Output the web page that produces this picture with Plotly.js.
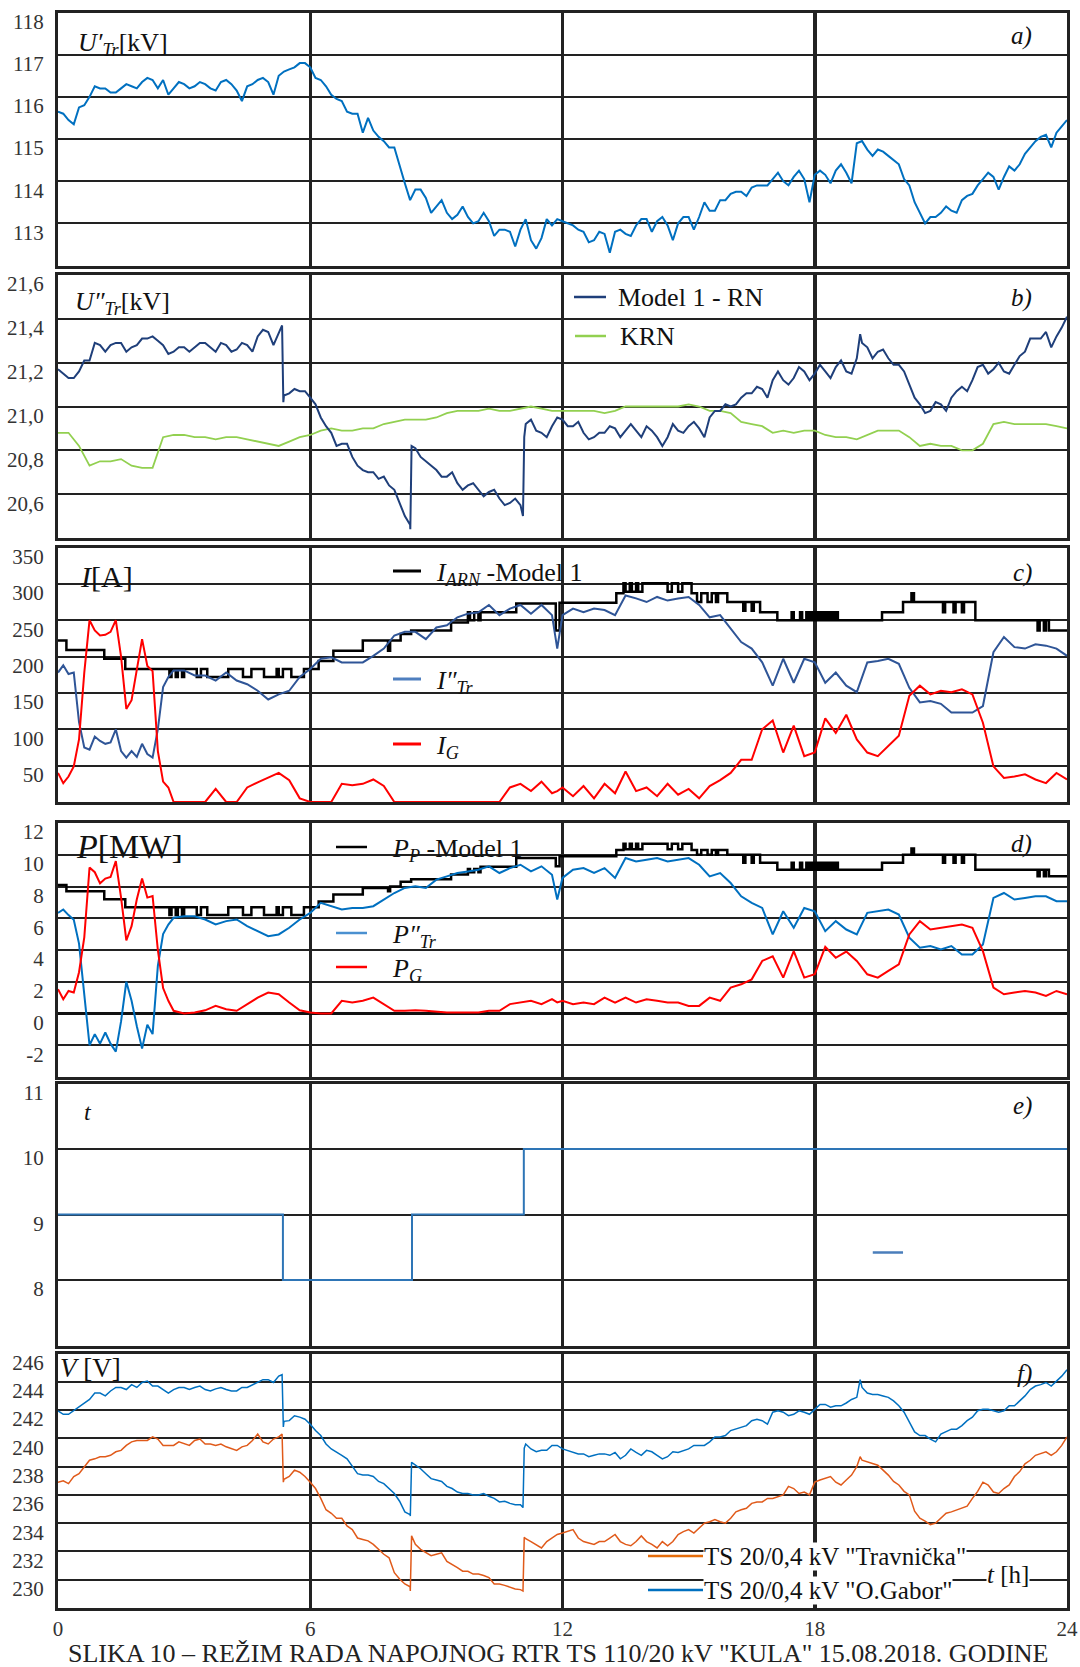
<!DOCTYPE html>
<html><head><meta charset="utf-8">
<script src="https://cdn.plot.ly/plotly-3.0.1.min.js"></script>
<style>html,body{margin:0;padding:0;background:#fff;}#chart{width:1080px;height:1667px;}</style>
</head><body><div id="chart"></div>
<script>
// ---------- DATA (hours of day) ----------
const HOURS = [0,0.25,0.5,0.75,1,1.25,1.5,1.75,2,2.25,2.5,2.75,3,3.25,3.5,3.75,4,4.25,4.5,4.75,5,5.25,5.5,5.75,6,6.25,6.5,6.75,7,7.25,7.5,7.75,8,8.25,8.5,8.75,9,9.25,9.5,9.75,10,10.25,10.5,10.75,11,11.25,11.5,11.75,12,12.25,12.5,12.75,13,13.25,13.5,13.75,14,14.25,14.5,14.75,15,15.25,15.5,15.75,16,16.25,16.5,16.75,17,17.25,17.5,17.75,18,18.25,18.5,18.75,19,19.25,19.5,19.75,20,20.25,20.5,20.75,21,21.25,21.5,21.75,22,22.25,22.5,22.75,23,23.25,23.5,23.75,24];

const MID_H = [0.125,0.375,0.625,0.875,1.125,1.375,1.625,1.875,2.125,2.375,2.625,2.875,3.125,3.375,3.625,3.875,4.125,4.375,4.625,4.875,5.125,5.375,5.625,5.875,6.125,6.375,6.625,6.875,7.125,7.375,7.625,7.875,8.125,8.375,8.625,8.875,9.125,9.375,9.625,9.875,10.125,10.375,10.625,10.875,11.125,11.375,11.625,11.875,12.125,12.375,12.625,12.875,13.125,13.375,13.625,13.875,14.125,14.375,14.625,14.875,15.125,15.375,15.625,15.875,16.125,16.375,16.625,16.875,17.125,17.375,17.625,17.875,18.125,18.375,18.625,18.875,19.125,19.375,19.625,19.875,20.125,20.375,20.625,20.875,21.125,21.375,21.625,21.875,22.125,22.375,22.625,22.875,23.125,23.375,23.625,23.875];

const HOURS_J = [0,0.25,0.5,0.75,1,1.25,1.5,1.75,2,2.25,2.5,2.75,3,3.25,3.5,3.75,4,4.25,4.5,4.75,5,5.25,5.33,5.36,5.5,5.75,6,6.25,6.5,6.75,7,7.25,7.5,7.75,8,8.25,8.38,8.41,8.5,8.75,9,9.25,9.5,9.75,10,10.25,10.5,10.75,11,11.06,11.09,11.25,11.5,11.75,12,12.25,12.5,12.75,13,13.25,13.5,13.75,14,14.25,14.5,14.75,15,15.25,15.5,15.75,16,16.25,16.5,16.75,17,17.25,17.5,17.75,18,18.25,18.5,18.75,19,19.08,19.25,19.5,19.75,20,20.25,20.5,20.75,21,21.25,21.5,21.75,22,22.25,22.5,22.75,23,23.25,23.5,23.75,24];

const HOURS_CD = [0,0.125,0.25,0.375,0.5,0.625,0.75,0.875,1,1.125,1.25,1.375,1.5,1.625,1.75,1.875,2,2.125,2.25,2.375,2.5,2.625,2.75,3,3.25,3.5,3.75,4,4.25,4.5,4.75,5,5.25,5.5,5.75,6,6.25,6.5,6.75,7,7.25,7.5,7.75,8,8.25,8.5,8.75,9,9.25,9.5,9.75,10,10.25,10.5,10.75,11,11.25,11.5,11.75,11.875,12,12.25,12.5,12.75,13,13.25,13.5,13.75,14,14.25,14.5,14.75,15,15.25,15.5,15.75,16,16.25,16.5,16.75,17,17.25,17.5,17.75,18,18.25,18.5,18.75,19,19.25,19.5,19.75,20,20.25,20.5,20.75,21,21.25,21.5,21.75,22,22.25,22.5,22.75,23,23.25,23.5,23.75,24];

// a) U'Tr [kV]
const U_HV = [115.65,115.45,115.75,116.0,116.2,116.1,116.2,116.25,116.35,116.4,116.4,116.2,116.3,116.25,116.3,116.15,116.4,116.15,116.25,116.4,116.35,116.5,116.65,116.8,
116.7,116.4,116.05,115.9,115.6,115.15,115.2,114.95,114.8,113.95,113.8,113.6,113.4,113.25,113.2,113.15,113.05,113.05,112.85,112.8,112.85,112.6,112.65,112.95,
113.05,112.95,112.8,112.6,112.75,112.8,112.75,112.95,113.1,113.05,112.95,113.0,113.15,113.15,113.3,113.55,113.7,113.75,113.85,113.9,114.05,114.0,114.1,114.05,
114.15,114.15,114.25,114.2,114.9,114.75,114.75,114.6,114.4,113.9,113.25,113.15,113.25,113.3,113.55,113.7,114.05,114.1,114.1,114.25,114.65,114.95,115.1,115.15,115.45];
const U_HV_MID = [115.6,115.35,115.8,116.25,116.2,116.1,116.3,116.2,116.45,116.2,116.05,116.35,116.2,116.35,116.2,116.35,116.3,115.9,116.3,116.45,116.05,116.6,116.7,116.8,
116.45,116.25,115.95,115.65,115.6,115.5,115.05,114.8,114.35,113.55,113.8,113.25,113.55,113.1,113.4,113.0,113.25,112.7,112.85,112.45,113.1,112.4,113.1,113.1,
113.0,112.85,112.55,112.8,112.3,112.85,112.7,113.1,112.8,113.15,112.6,113.15,112.85,113.5,113.3,113.55,113.75,113.65,113.9,113.9,114.2,113.9,114.25,113.5,
114.25,113.95,114.4,113.95,114.95,114.6,114.7,114.5,114.05,113.5,113.0,113.15,113.4,113.25,113.65,113.9,114.2,113.8,114.35,114.4,114.8,115.05,114.8,115.3];

// b) U''Tr [kV]
const U_RN = [21.17,21.13,21.16,21.21,21.28,21.28,21.29,21.27,21.31,21.32,21.28,21.25,21.27,21.27,21.29,21.25,21.28,21.26,21.28,21.32,21.34,21.34,
21.37,21.02,
21.06,21.07,21.04,20.95,20.88,20.83,20.77,20.71,20.70,20.68,20.62,20.50,
20.44,20.82,
20.81,20.75,20.71,20.68,20.65,20.64,20.62,20.61,20.58,20.56,20.55,
20.50,20.86,
20.94,20.88,20.91,20.94,20.91,20.88,20.86,20.88,20.90,20.89,20.89,20.91,20.86,20.86,20.89,20.91,20.90,20.95,20.98,21.00,21.04,21.06,21.08,21.12,21.12,21.13,21.16,21.15,21.16,21.18,21.16,21.22,
21.33,
21.27,21.25,21.22,21.19,21.10,21.01,20.98,21.01,21.04,21.09,21.12,21.19,21.17,21.16,21.19,21.25,21.31,21.34,21.32,21.41];
const U_RN_MID = [21.15,21.13,21.21,21.29,21.25,21.29,21.25,21.28,21.31,21.30,21.24,21.27,21.25,21.29,21.27,21.29,21.25,21.29,21.25,21.35,21.28,21.05,21.08,21.07,
21.01,20.91,20.82,20.83,20.73,20.70,20.67,20.64,20.56,20.46,20.77,20.73,20.68,20.70,20.62,20.65,20.59,20.62,20.55,20.58,20.92,20.89,20.86,20.95,
20.91,20.93,20.85,20.88,20.91,20.86,20.92,20.86,20.89,20.82,20.92,20.88,20.93,20.86,20.98,21.01,21.01,21.06,21.09,21.04,21.16,21.10,21.18,21.12,
21.19,21.13,21.21,21.15,21.29,21.22,21.26,21.19,21.16,21.04,20.97,21.02,20.98,21.07,21.07,21.18,21.15,21.20,21.15,21.23,21.31,21.31,21.27,21.36];
const KRN = [20.88,20.88,20.82,20.73,20.75,20.75,20.76,20.73,20.72,20.72,20.86,20.87,20.87,20.86,20.86,20.85,20.86,20.86,20.85,20.84,20.83,20.82,20.84,20.86,
20.87,20.89,20.90,20.89,20.89,20.90,20.90,20.92,20.93,20.94,20.94,20.94,20.95,20.97,20.98,20.98,20.98,20.99,20.98,20.98,20.99,21.00,20.99,20.98,
20.98,20.98,20.98,20.98,20.97,20.98,21.00,21.00,21.00,21.00,21.00,21.00,21.01,21.00,20.98,20.98,20.97,20.93,20.92,20.91,20.88,20.89,20.88,20.89,
20.89,20.87,20.86,20.86,20.85,20.87,20.89,20.89,20.89,20.86,20.82,20.83,20.82,20.82,20.80,20.80,20.83,20.92,20.93,20.92,20.92,20.92,20.92,20.91,20.90];

// c) I [A]
const I_TR = [178,188,176,178,110,75,72,90,84,80,82,100,70,61,70,62,80,66,61,100,158,172,181,
181,174,174,167,178,167,162,153,141,148,153,172,183,197,199,192,192,192,201,211,229,234,234,224,240,243,254,259,261,271,257,266,271,259,271,257,
211,
257,266,261,266,264,257,284,280,275,282,277,280,282,271,254,257,238,220,211,192,160,197,164,197,192,164,178,160,151,192,194,197,190,157,137,139,135,123,123,123,132,206,227,213,211,217,215,211,201];
const I_G = [40,26,35,49,86,178,250,236,229,230,234,250,200,128,140,185,224,187,180,70,28,20,0,
0,0,0,18,0,0,20,27,33,40,30,5,0,0,0,25,23,25,31,22,0,0,0,0,0,0,0,0,0,0,0,20,25,15,28,12,
15,
20,8,22,5,25,12,42,15,20,8,25,10,18,5,22,30,40,58,58,100,112,68,105,63,68,115,95,120,86,68,63,77,91,146,160,148,153,151,155,148,109,49,33,35,38,31,26,40,31];

// steps of the model (shared switching times)
const STEP_H = [0,0.2,1.1,1.6,2.65,2.7,2.8,2.85,2.95,3.0,3.3,3.4,3.55,4.05,4.4,4.6,4.9,5.2,5.25,5.35,5.55,5.85,6.2,6.55,7.25,7.85,7.9,8.15,8.4,9.35,9.75,9.8,9.9,10.0,10.05,10.9,11.84,11.93,13.28,13.45,13.5,13.6,13.65,13.75,13.8,13.9,14.5,14.6,14.75,14.85,15.07,15.2,15.3,15.45,15.55,15.65,15.7,15.92,16.3,16.35,16.5,16.55,16.7,17.11,17.45,17.5,17.65,17.7,17.8,17.85,17.9,17.95,18.0,18.05,18.1,18.15,18.2,18.25,18.3,18.35,18.4,18.45,18.5,18.55,19.6,20.1,20.3,20.36,21.05,21.1,21.3,21.35,21.5,21.55,21.82,23.3,23.35,23.45,23.5,23.57,24];
const I_ARN = [222,209,197,183,172,183,172,183,172,183,172,183,172,183,172,183,172,183,172,183,172,183,194,208,222,208,222,231,236,247,261,250,261,250,261,273,236,274,287,301,289,301,289,301,289,301,289,301,289,301,287,275,287,275,287,275,287,275,263,275,263,275,261,250,261,250,261,250,261,250,261,250,261,250,261,250,261,250,261,250,261,250,261,250,261,275,287,275,261,275,261,275,261,275,250,236,250,236,250,236,236];
const P_P = [8.1,7.7,7.2,6.7,6.2,6.7,6.2,6.7,6.2,6.7,6.2,6.7,6.2,6.7,6.2,6.7,6.2,6.7,6.2,6.7,6.2,6.7,7.05,7.5,7.9,7.7,8.0,8.3,8.45,8.75,9.1,8.9,9.1,8.9,9.25,9.8,9.27,9.9,10.3,10.7,10.35,10.7,10.35,10.7,10.35,10.7,10.35,10.7,10.35,10.7,10.3,10.0,10.3,10.0,10.3,10.0,10.3,10.0,9.5,10.0,9.5,10.0,9.5,9.05,9.5,9.05,9.5,9.05,9.5,9.05,9.5,9.05,9.5,9.05,9.5,9.05,9.5,9.05,9.5,9.05,9.5,9.05,9.5,9.05,9.5,10.0,10.4,10.0,9.5,10.0,9.5,10.0,9.5,10.0,9.05,8.65,9.05,8.65,9.05,8.65,8.65];

// d) P [MW]
const P_TR = [6.34,6.55,6.2,5.9,4.4,1.2,-2.0,-1.3,-1.9,-1.2,-1.9,-2.4,-0.5,2.0,0.8,-0.8,-2.2,-0.7,-1.3,3.0,5.0,5.6,6.03,
6.13,6.13,5.92,5.61,5.82,5.92,5.5,5.19,4.87,4.98,5.4,5.92,6.34,6.97,6.76,6.55,6.65,6.65,6.76,7.18,7.59,7.91,8.01,7.91,8.43,8.64,8.85,8.95,9.06,9.27,8.85,9.16,9.37,8.95,9.27,8.74,
7.18,
8.54,9.06,9.16,8.85,9.16,8.54,9.79,9.58,9.69,9.79,9.58,9.69,9.79,9.37,8.64,8.85,8.22,7.38,6.97,6.65,4.98,6.44,5.4,6.65,6.44,5.19,5.82,5.29,4.98,6.34,6.44,6.55,6.23,4.77,4.14,4.25,4.04,4.25,3.72,3.72,4.35,7.28,7.59,7.18,7.28,7.38,7.38,7.07,7.07];
const P_G = [1.53,0.9,1.42,1.32,2.6,4.8,9.2,8.9,8.2,8.5,8.6,9.6,7.3,4.6,5.5,7.2,8.5,7.3,7.4,4.0,1.6,0.8,0.17,
0,0.06,0.2,0.48,0.27,0.17,0.59,1.0,1.32,1.21,0.69,0.2,0.06,0,0,0.8,0.69,0.8,1.0,0.59,0.17,0.17,0.2,0.17,0.1,0.06,0.06,0.04,0.06,0.17,0.17,0.59,0.69,0.8,0.59,0.9,
0.7,
0.8,0.59,0.69,0.59,1.0,0.69,1.0,0.69,0.9,0.8,0.69,0.69,0.48,0.48,1.0,0.8,1.63,1.84,2.15,3.31,3.6,2.26,3.93,2.26,2.47,4.2,3.51,3.9,3.31,2.47,2.26,2.68,3.1,4.98,5.82,5.29,5.4,5.5,5.61,5.4,3.93,1.63,1.21,1.32,1.42,1.32,1.11,1.42,1.21];

// e) tap position t
const TAP_H = [0,5.35,8.42,11.08,24];
const TAP = [9,8,9,10,10];
const TAP_ODD_H = [19.38,20.1];
const TAP_ODD = [8.42,8.42];

// f) V [V]
const V_TRAV = [236.9,236.8,237.5,238.45,238.7,238.8,239.15,239.75,239.85,240.1,239.5,239.5,239.6,239.85,239.6,239.5,239.4,239.15,239.5,240.3,239.6,240.1,
240.3,236.9,
237.3,237.6,236.9,235.75,234.7,234.35,233.55,232.85,232.5,231.8,230.5,229.7,
229.2,233.1,
232.5,231.9,231.8,231.3,230.85,230.6,230.4,230.15,229.7,229.45,229.3,
229.2,233.0,
232.7,232.25,232.95,233.3,233.55,232.7,232.5,232.7,233.2,232.5,232.7,232.7,232.25,232.4,233.2,233.55,233.65,234.1,234.1,234.35,234.95,235.4,235.5,235.75,236.0,236.45,236.2,236.9,237.15,236.9,237.05,238.0,
238.7,
238.35,238.1,237.4,236.7,236.0,234.35,233.9,234.35,234.8,235.05,235.75,236.9,236.2,236.45,237.3,238.2,238.8,239.05,239.05,240.1];
const V_TRAV_MID = [237.0,237.3,238.0,238.55,238.7,239.05,239.5,239.85,239.85,239.95,239.5,239.75,239.5,239.95,239.6,239.6,239.25,239.4,239.85,239.75,239.95,237.1,237.75,237.3,
236.45,234.95,234.35,233.8,232.95,232.75,232.15,231.55,230.05,229.5,232.15,231.7,231.9,231.1,230.6,230.4,230.3,229.7,229.6,229.35,232.9,232.5,232.7,233.2,
233.4,232.95,232.6,232.7,232.95,232.7,232.4,233.1,232.5,232.7,232.7,233.4,233.3,234.0,234.25,234.0,234.8,235.05,235.5,235.75,235.9,236.6,236.1,236.0,
237.05,237.3,236.7,237.4,238.45,238.2,237.75,236.95,236.25,234.85,234.15,234.0,234.7,234.95,235.2,236.25,236.7,236.1,236.7,237.65,238.45,238.9,238.8,239.5];
const V_GABOR = [241.95,241.7,242.2,242.75,243.2,243.35,243.6,243.8,243.95,243.7,243.45,243.45,243.6,243.6,243.45,243.5,243.45,243.35,243.6,243.95,244.15,244.4,
244.5,240.8,
241.25,241.5,241.0,240.2,239.25,238.8,238.0,237.4,237.3,236.8,236.1,234.8,
234.5,238.3,
238.1,237.5,237.05,236.6,236.2,236.1,236.0,235.9,235.5,235.4,235.3,
235.1,239.3,
239.25,239.15,239.5,239.25,239.0,238.9,238.8,238.9,239.0,238.8,239.0,239.15,238.8,238.7,239.0,239.25,239.5,239.75,240.1,240.55,240.8,241.25,241.25,241.85,241.85,241.7,241.85,242.05,242.4,242.3,242.5,242.9,
244.15,
243.2,243.1,242.9,242.3,241.15,240.2,239.95,240.3,240.65,240.9,241.5,242.05,241.95,241.95,242.3,243.0,243.7,243.95,244.05,244.85];
const V_GABOR_MID = [241.7,241.95,242.5,243.2,243.0,243.6,243.45,243.6,244.05,243.7,243.2,243.6,243.45,243.7,243.35,243.6,243.35,243.6,243.8,244.15,243.95,241.2,241.6,241.35,
240.55,239.6,239.05,238.55,237.5,237.4,236.95,236.45,235.55,234.6,237.85,237.15,236.95,236.45,236.1,236.0,236.1,235.75,235.55,235.3,239.6,239.05,239.15,239.5,
239.15,238.9,238.7,238.9,238.8,238.55,239.25,238.8,239.05,238.55,239.05,239.15,239.5,239.5,240.1,240.2,240.65,240.9,241.35,241.0,241.95,241.6,241.95,241.7,
242.4,242.2,242.3,242.75,243.6,243.1,243.0,242.65,241.85,240.45,240.2,239.75,240.45,240.65,241.25,241.95,242.05,241.85,242.3,242.65,243.45,243.8,243.7,244.4];

const X_TICKS = [0,6,12,18,24];
const Y_A = [113,114,115,116,117,118];
const Y_B = [20.6,20.8,21.0,21.2,21.4,21.6];
const Y_B_TXT = ['20,6','20,8','21,0','21,2','21,4','21,6'];
const Y_C = [50,100,150,200,250,300,350];
const Y_D = [-2,0,2,4,6,8,10,12];
const Y_E = [8,9,10,11];
const Y_F = [230,232,234,236,238,240,242,244,246];

// combine two separately read sample sets of one series, ordered by hour
function combine(h1, v1, h2, v2) {
  const p = [];
  h1.forEach(function (h, i) { p.push([h, v1[i]]); });
  h2.forEach(function (h, i) { p.push([h, v2[i]]); });
  p.sort(function (a, b) { return a[0] - b[0]; });
  return [p.map(function (q) { return q[0]; }), p.map(function (q) { return q[1]; })];
}

// ---------- LAYOUT ----------
const W = 1080, H = 1667;
const FONT = '"Liberation Serif", "Times New Roman", serif';
const GRID = '#222';
const XL = 58, XR = 1067;
const PANELS = [[12.5,265.5],[275,538],[547.5,802],[823,1077],[1083.5,1345.5],[1353.5,1608]];
const RANGES = [[112,118],[20.4,21.6],[0,350],[-4,12],[7,11],[228,246]];
const YT = [Y_A, Y_B, Y_C, Y_D, Y_E, Y_F];
const YTT = [Y_A.map(String), Y_B_TXT, Y_C.map(String), Y_D.map(String), Y_E.map(String), Y_F.map(String)];

const layout = {
  width: W, height: H, margin: {l:0, r:0, t:0, b:0},
  paper_bgcolor: '#fff', plot_bgcolor: '#fff', showlegend: false,
  font: {family: FONT, color: '#222', size: 20},
  annotations: [], shapes: []
};
for (let i = 0; i < 6; i++) {
  const s = i === 0 ? '' : String(i + 1);
  layout['xaxis' + s] = {
    domain: [XL / W, XR / W], range: [0, 24], anchor: 'y' + s,
    tickvals: X_TICKS, ticktext: X_TICKS.map(String), showticklabels: i === 5,
    showgrid: true, gridcolor: GRID, gridwidth: 3.5, zeroline: false,
    showline: true, mirror: true, linecolor: GRID, linewidth: 3, ticks: '',
    tickfont: {family: FONT, size: 21, color: '#333'}, fixedrange: true
  };
  layout['yaxis' + s] = {
    domain: [1 - PANELS[i][1] / H, 1 - PANELS[i][0] / H], range: RANGES[i], anchor: 'x' + s,
    tickvals: YT[i], ticktext: YTT[i],
    showgrid: true, gridcolor: GRID, gridwidth: 2,
    zeroline: i === 3, zerolinecolor: '#111', zerolinewidth: 3.5,
    showline: true, mirror: true, linecolor: GRID, linewidth: 3, ticks: '',
    tickfont: {family: FONT, size: 21, color: '#333'},
    ticklabelshift: 9, ticklabelstandoff: 7, fixedrange: true
  };
}

function ann(t, x, y, size, o) {
  layout.annotations.push(Object.assign({
    text: t, x: x / W, y: 1 - y / H, xref: 'paper', yref: 'paper', showarrow: false,
    xanchor: 'left', yanchor: 'middle', font: {family: FONT, size: size, color: '#111'}
  }, o || {}));
}
function seg(x0, x1, y, color, w) {
  layout.shapes.push({type: 'line', xref: 'paper', yref: 'paper', x0: x0 / W, x1: x1 / W,
    y0: 1 - y / H, y1: 1 - y / H, line: {color: color, width: w}});
}

// panel titles
ann('<i>U′</i><sub><i>Tr</i></sub>[kV]', 76, 44, 26);
ann('<i>U″</i><sub><i>Tr</i></sub>[kV]', 73, 303, 26);
ann('<i>I</i>[A]', 78, 576, 30);
ann('<i>P</i>[MW]', 74, 846, 34);
ann('<i>t</i>', 82, 1112, 24);
ann('<i>V</i> [V]', 58, 1368, 27);
// panel letters
const LET = [['a)',36],['b)',298],['c)',573],['d)',844],['e)',1106],['f)',1374]];
LET.forEach(function (l) { ann('<i>' + l[0] + '</i>', 1034, l[1], 25, {xanchor: 'right'}); });

// legend b
seg(574, 606, 297, '#1F3F7A', 2.5); ann('Model 1 - RN', 616, 297, 26);
seg(575, 606, 336, '#92D050', 2.5); ann('KRN', 618, 336, 26);
// legend c
seg(393, 421, 571, '#000', 3); ann('<i>I</i><sub><i>ARN</i></sub> -Model 1', 434, 574, 26);
seg(393, 421, 679, '#4F7FBF', 3); ann('<i>I″</i><sub><i>Tr</i></sub>', 434, 682, 26);
seg(393, 421, 744, '#FF0000', 3); ann('<i>I</i><sub><i>G</i></sub>', 434, 747, 26);
// legend d
seg(336, 367, 847, '#000', 2.5); ann('<i>P</i><sub><i>P</i></sub> -Model 1', 390, 850, 26);
seg(336, 367, 933, '#4A90D0', 2.5); ann('<i>P″</i><sub><i>Tr</i></sub>', 390, 936, 26);
seg(336, 367, 967, '#FF0000', 2.5); ann('<i>P</i><sub><i>G</i></sub>', 390, 970, 26);
// legend f
seg(648, 703, 1556, '#E46C0A', 2.5);
ann('TS 20/0,4 kV "Travnička"', 703, 1556, 25, {bgcolor: '#fff', borderpad: 0});
seg(648, 703, 1590, '#0070C0', 2.5);
ann('TS 20/0,4 kV "O.Gabor"', 703, 1590, 25, {bgcolor: '#fff', borderpad: 0});
ann('<i>t</i> [h]', 986, 1574, 25, {bgcolor: '#fff', borderpad: 0});
// caption
ann('SLIKA 10 – REŽIM RADA NAPOJNOG RTR TS 110/20 kV "KULA" 15.08.2018. GODINE', 558, 1653, 26, {xanchor: 'center', font: {family: FONT, size: 26, color: '#222'}});

// ---------- TRACES ----------
function tr(xy, ax, color, w, shape) {
  return {x: xy[0], y: xy[1], xaxis: 'x' + ax, yaxis: 'y' + ax, type: 'scatter', mode: 'lines',
    line: {color: color, width: w, shape: shape || 'linear'}, hoverinfo: 'skip'};
}
const data = [
  tr(combine(HOURS, U_HV, MID_H, U_HV_MID), '', '#0070C0', 2),
  tr([HOURS, KRN], '2', '#92D050', 1.8),
  tr(combine(HOURS_J, U_RN, MID_H, U_RN_MID), '2', '#1F3F7A', 2),
  tr([STEP_H, I_ARN], '3', '#000000', 2.5, 'hv'),
  tr([HOURS_CD, I_TR], '3', '#2F5597', 2),
  tr([HOURS_CD, I_G], '3', '#FF0000', 2),
  tr([STEP_H, P_P], '4', '#000000', 2.5, 'hv'),
  tr([HOURS_CD, P_TR], '4', '#0070C0', 2),
  tr([HOURS_CD, P_G], '4', '#FF0000', 2),
  tr([TAP_H, TAP], '5', '#2E75B6', 2, 'hv'),
  tr([TAP_ODD_H, TAP_ODD], '5', '#4A7EBB', 2.5),
  tr(combine(HOURS_J, V_GABOR, MID_H, V_GABOR_MID), '6', '#0070C0', 1.5),
  tr(combine(HOURS_J, V_TRAV, MID_H, V_TRAV_MID), '6', '#E05A1A', 1.5)
];

Plotly.newPlot('chart', data, layout, {staticPlot: true, displayModeBar: false});
</script>
</body></html>
